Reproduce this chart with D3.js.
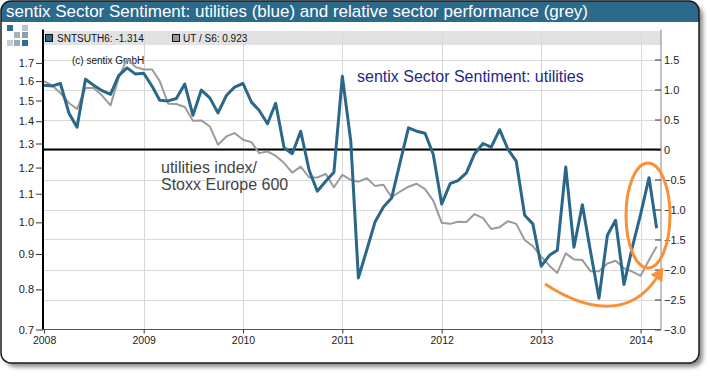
<!DOCTYPE html>
<html>
<head>
<meta charset="utf-8">
<script src="https://cdn.jsdelivr.net/npm/d3@7"></script>
<style>
  body { margin: 0; background: #fff; }
  svg { display: block; font-family: "Liberation Sans", Arial, sans-serif; }
</style>
</head>
<body>
<div id="chart"></div>
<script>
// monthly values, Jan 2008 .. Mar 2014
const startMonth = new Date(2008, 0, 1);
const sentiment = [
  1.07, 1.06, 1.10, 0.61, 0.37, 1.17, 1.07, 0.98, 0.92, 1.23, 1.36, 1.26,
  1.27, 1.055, 0.82, 0.81, 0.85, 1.09, 0.57, 0.99, 0.86, 0.61, 0.90, 1.04,
  1.10, 0.79, 0.655, 0.43, 0.77, 0.03, -0.07, 0.305, -0.345, -0.695, -0.53, -0.38,
  1.22, 0.14, -2.14, -1.67, -1.21, -0.96, -0.81, -0.22, 0.36, 0.305, 0.27, -0.08,
  -0.91, -0.57, -0.52, -0.39, -0.07, 0.10, 0.04, 0.33, 0.0, -0.195, -1.095, -1.24,
  -1.945, -1.76, -1.68, -0.29, -1.63, -0.92, -1.70, -2.48, -1.43, -1.18, -2.25, -1.64,
  -1.08, -0.47, -1.314
];
const relative = [
  1.600, 1.576, 1.538, 1.488, 1.458, 1.564, 1.564, 1.525, 1.476, 1.617, 1.723, 1.678,
  1.663, 1.663, 1.600, 1.484, 1.483, 1.468, 1.402, 1.404, 1.376, 1.295, 1.331, 1.346,
  1.316, 1.306, 1.259, 1.266, 1.248, 1.218, 1.180, 1.204, 1.161, 1.161, 1.175, 1.124,
  1.171, 1.152, 1.145, 1.158, 1.129, 1.133, 1.087, 1.108, 1.126, 1.137, 1.117, 1.075,
  0.999, 0.995, 1.002, 1.001, 1.028, 1.014, 0.978, 0.984, 1.004, 0.995, 0.943, 0.924,
  0.892, 0.865, 0.845, 0.902, 0.884, 0.882, 0.850, 0.850, 0.872, 0.880, 0.858, 0.849,
  0.837, 0.882, 0.923
];
const leftTicks = [0.7, 0.8, 0.9, 1.0, 1.1, 1.2, 1.3, 1.4, 1.5, 1.6, 1.7];
const rightTicks = [-3.0, -2.5, -2.0, -1.5, -1.0, -0.5, 0, 0.5, 1.0, 1.5];
const yearTicks = [2008, 2009, 2010, 2011, 2012, 2013, 2014];

const titleText = "sentix Sector Sentiment: utilities (blue) and relative sector performance (grey)";
const legendBlue = "SNTSUTH6: -1.314";
const legendGrey = "UT / S6: 0.923";

const width = 710, height = 376;
const plot = { left: 43, right: 661, top: 29.5, bottom: 329.5 };

const dates = sentiment.map((d, i) => d3.timeMonth.offset(startMonth, i));

const x = d3.scaleTime()
  .domain([new Date(2007, 11, 28), new Date(2014, 2, 17)])
  .range([plot.left, plot.right]);
const yL = d3.scaleLog().domain([0.7, 1.9]).range([plot.bottom, plot.top]);
const yR = d3.scaleLinear().domain([-3, 2]).range([plot.bottom, plot.top]);

const svg = d3.select("#chart").append("svg")
  .attr("width", width)
  .attr("height", height);

const defs = svg.append("defs");
const shadow = defs.append("filter").attr("id", "shadow")
  .attr("x", "-5%").attr("y", "-5%").attr("width", "110%").attr("height", "115%");
shadow.append("feDropShadow")
  .attr("dx", 4).attr("dy", 4).attr("stdDeviation", 2)
  .attr("flood-color", "#000").attr("flood-opacity", 0.45);
defs.append("clipPath").attr("id", "frameClip")
  .append("rect").attr("x", 1).attr("y", 1).attr("width", 698).attr("height", 362).attr("rx", 10);
defs.append("marker").attr("id", "arrow")
  .attr("markerUnits", "userSpaceOnUse")
  .attr("viewBox", "0 -8 14 16")
  .attr("markerWidth", 14).attr("markerHeight", 16)
  .attr("refX", 3).attr("refY", 0)
  .attr("orient", "auto")
  .append("path").attr("d", "M0,-7L13,0L0,7Z").attr("fill", "#f7913a");

// frame with shadow
svg.append("rect")
  .attr("x", 1).attr("y", 1).attr("width", 698).attr("height", 362).attr("rx", 10)
  .attr("fill", "#fff")
  .attr("filter", "url(#shadow)");

// title bar
svg.append("rect")
  .attr("clip-path", "url(#frameClip)")
  .attr("x", 0).attr("y", 0).attr("width", 700).attr("height", 22)
  .attr("fill", "#2c6a8c");
svg.append("text")
  .attr("x", 6).attr("y", 17)
  .attr("fill", "#fff")
  .attr("font-size", 17)
  .text(titleText);

svg.append("rect")
  .attr("x", 1).attr("y", 1).attr("width", 698).attr("height", 362).attr("rx", 10)
  .attr("fill", "none")
  .attr("stroke", "#1a1a1a")
  .attr("stroke-width", 1.5);

// logo squares
const logo = [
  [7, 25, "#2f6e94"], [22, 25, "#b9c5cd"],
  [14, 32, "#a3b2bc"], [22, 32, "#8c9ea9"],
  [7, 40, "#c4ced4"], [14, 40, "#9aa9b3"], [22, 40, "#2f6e94"]
];
svg.append("g").selectAll("rect").data(logo).join("rect")
  .attr("x", d => d[0]).attr("y", d => d[1])
  .attr("width", 6).attr("height", 6)
  .attr("fill", d => d[2]);

// legend band
svg.append("rect")
  .attr("x", plot.left).attr("y", 31)
  .attr("width", plot.right - plot.left).attr("height", 14)
  .attr("fill", "#e2e2e2");

// grid
const grid = svg.append("g").attr("stroke", "#d9d9d9").attr("stroke-width", 1);
grid.selectAll("line.h").data(rightTicks.filter(v => v > -3)).join("line")
  .attr("x1", plot.left).attr("x2", plot.right)
  .attr("y1", d => Math.round(yR(d)) + 0.5).attr("y2", d => Math.round(yR(d)) + 0.5);
grid.selectAll("line.v").data(yearTicks.slice(1)).join("line")
  .attr("x1", d => Math.round(x(new Date(d, 0, 1))) + 0.5)
  .attr("x2", d => Math.round(x(new Date(d, 0, 1))) + 0.5)
  .attr("y1", 31).attr("y2", plot.bottom);

// legend
const legend = svg.append("g").attr("font-size", 10).attr("fill", "#111");
legend.append("rect").attr("x", 45.5).attr("y", 34.5).attr("width", 7).attr("height", 7)
  .attr("fill", "#2a6788").attr("stroke", "#111");
legend.append("text").attr("x", 57).attr("y", 42).text(legendBlue);
legend.append("rect").attr("x", 172.5).attr("y", 34.5).attr("width", 7).attr("height", 7)
  .attr("fill", "#999").attr("stroke", "#111");
legend.append("text").attr("x", 183).attr("y", 42).text(legendGrey);

svg.append("text")
  .attr("x", 72).attr("y", 64)
  .attr("font-size", 10).attr("fill", "#111")
  .text("(c) sentix GmbH");

// zero line of the sentiment axis
svg.append("line")
  .attr("x1", plot.left).attr("x2", plot.right)
  .attr("y1", yR(0)).attr("y2", yR(0))
  .attr("stroke", "#000").attr("stroke-width", 2);

// series
svg.append("path")
  .datum(relative)
  .attr("fill", "none")
  .attr("stroke", "#9b9b9b")
  .attr("stroke-width", 2)
  .attr("stroke-linejoin", "round")
  .attr("d", d3.line().x((d, i) => x(dates[i])).y(d => yL(d)));

svg.append("path")
  .datum(sentiment)
  .attr("fill", "none")
  .attr("stroke", "#2a6788")
  .attr("stroke-width", 3)
  .attr("stroke-linejoin", "round")
  .attr("d", d3.line().x((d, i) => x(dates[i])).y(d => yR(d)));

// axes
const axisL = svg.append("g")
  .attr("transform", `translate(${plot.left},0)`)
  .call(d3.axisLeft(yL).tickValues(leftTicks).tickFormat(d3.format(".1f")).tickSize(7).tickPadding(2));
const axisR = svg.append("g")
  .attr("transform", `translate(${plot.right},0)`)
  .call(d3.axisRight(yR).tickValues(rightTicks)
    .tickFormat(d => d === 0 ? "0" : d3.format(".1f")(d))
    .tickSize(-6).tickPadding(3));
const axisB = svg.append("g")
  .attr("transform", `translate(0,${plot.bottom})`)
  .call(d3.axisBottom(x).tickValues(yearTicks.map(y => new Date(y, 0, 1)))
    .tickFormat(d3.timeFormat("%Y")).tickSize(4).tickPadding(3));

[axisL, axisR, axisB].forEach(a => {
  a.selectAll("text").attr("font-size", 11).attr("fill", "#222")
    .attr("font-family", "'Liberation Sans', Arial, sans-serif");
  a.selectAll(".tick line").attr("stroke", "#333");
});
axisL.select(".domain").attr("stroke", "#000").attr("stroke-width", 2).attr("d", `M0,${plot.top}V${plot.bottom}`);
axisR.select(".domain").attr("stroke", "#888").attr("d", `M0,${plot.top}V${plot.bottom}`);
axisB.select(".domain").attr("stroke", "#555").attr("d", `M${plot.left},0H${plot.right}`);
axisB.selectAll("text").attr("font-size", 10.5);

// annotations
svg.append("text")
  .attr("x", 357).attr("y", 82)
  .attr("font-size", 16).attr("fill", "#1c2a86")
  .text("sentix Sector Sentiment: utilities");
const note = svg.append("text").attr("font-size", 16).attr("fill", "#444");
note.append("tspan").attr("x", 161).attr("y", 173).text("utilities index/");
note.append("tspan").attr("x", 161).attr("y", 190).text("Stoxx Europe 600");

svg.append("ellipse")
  .attr("cx", 648).attr("cy", 215.5).attr("rx", 22).attr("ry", 52.5)
  .attr("fill", "none").attr("stroke", "#f7913a").attr("stroke-width", 3);
svg.append("path")
  .attr("d", "M545,284 C585,310 630,320 658,276")
  .attr("fill", "none").attr("stroke", "#f7913a").attr("stroke-width", 3)
  .attr("marker-end", "url(#arrow)");
</script>
</body>
</html>
